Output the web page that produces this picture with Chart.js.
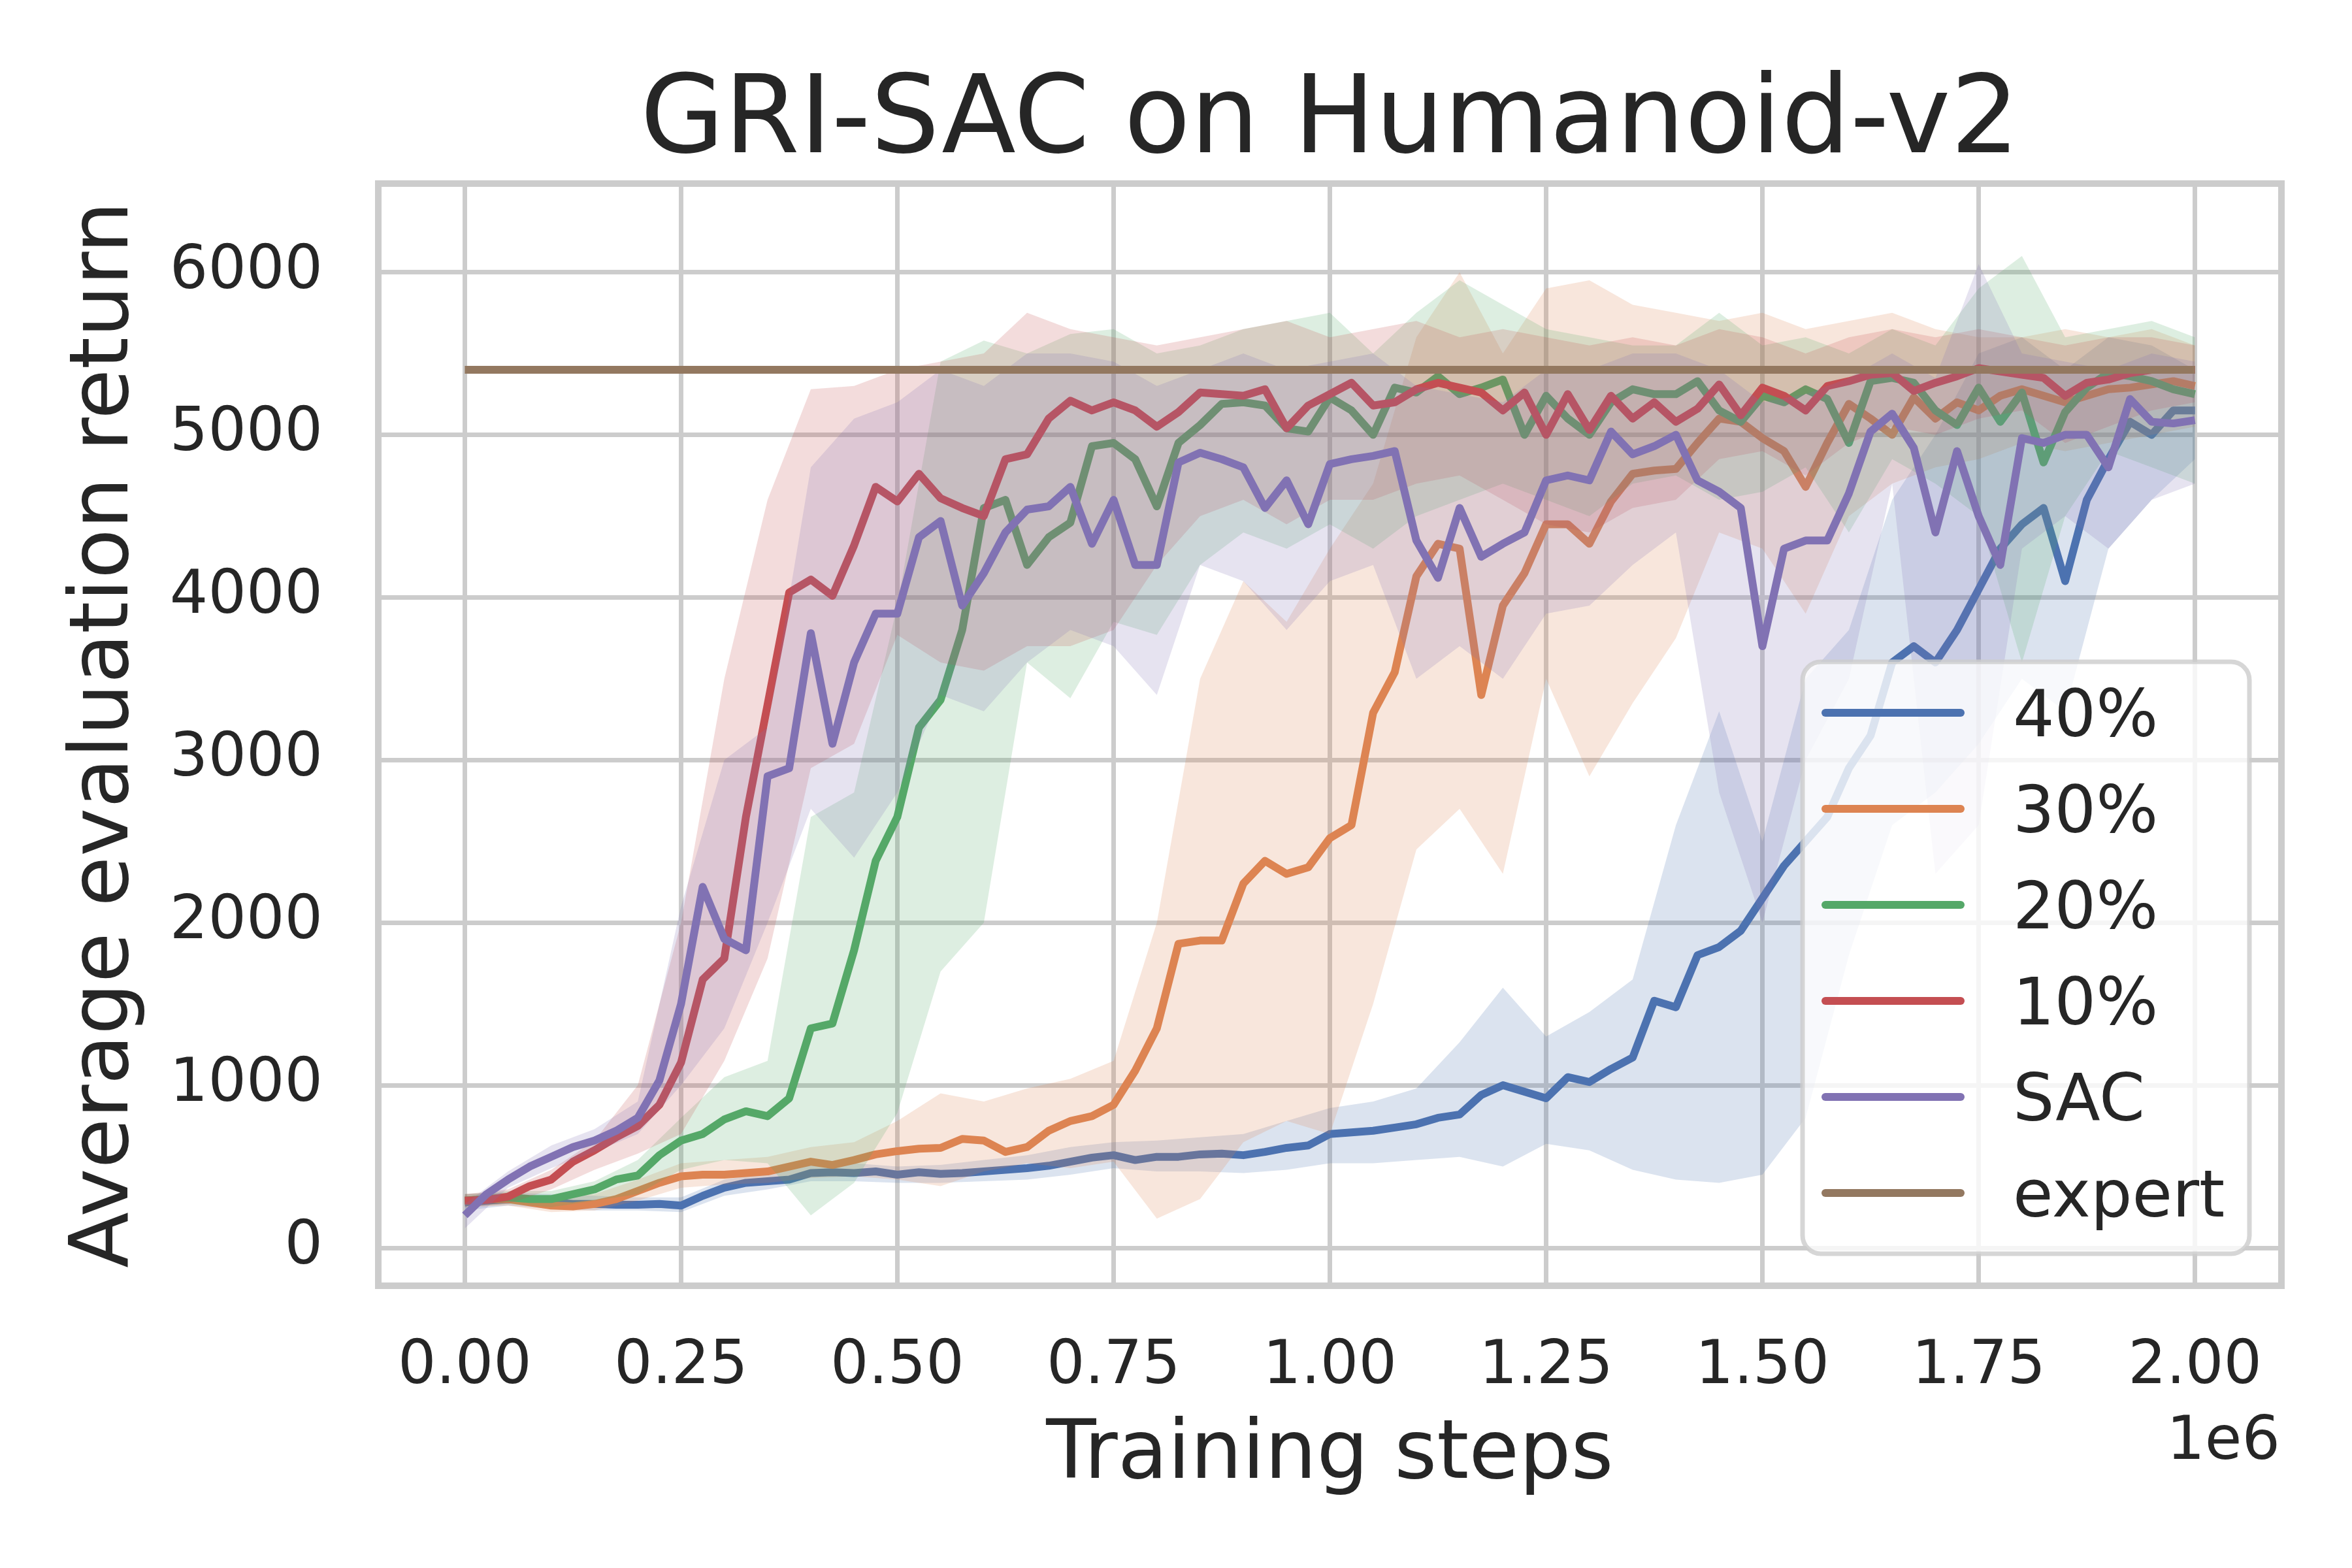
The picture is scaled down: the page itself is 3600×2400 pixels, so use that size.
<!DOCTYPE html>
<html><head><meta charset="utf-8">
<script src="https://cdn.jsdelivr.net/npm/chart.js@4.4.1/dist/chart.umd.min.js"></script>
<style>html,body{margin:0;padding:0;background:#fff}</style>
</head><body>
<canvas id="c" width="3600" height="2400" style="width:3600px;height:2400px"></canvas>
<script>
// x positions of the evaluations, in thousands of training steps
const steps = [0,25,50,75,100,125,150,175,200,225,250,275,300,325,350,375,400,
425,450,475,500,525,550,575,600,625,650,675,700,725,750,775,800,
825,850,875,900,925,950,975,1000,1025,1050,1075,1100,1125,1150,1175,1200,
1225,1250,1275,1300,1325,1350,1375,1400,1425,1450,1475,1500,1525,1550,1575,1600,
1625,1650,1675,1700,1725,1750,1775,1800,1825,1850,1875,1900,1925,1950,1975,2000];
// x positions of the confidence band samples, in thousands of steps
const bandSteps = [0,50,100,150,200,250,300,350,400,
450,500,550,600,650,700,750,800,
850,900,950,1000,1050,1100,1150,1200,
1250,1300,1350,1400,1450,1500,1550,1600,
1650,1700,1750,1800,1850,1900,1950,2000];

const chartTitle = 'GRI-SAC on Humanoid-v2';
const xTitle = 'Training steps';
const yTitle = 'Average evaluation return';
const seriesLabels = ['40%','30%','20%','10%','SAC','expert'];

const ret40 = [280,290,300,290,280,270,270,265,265,270,260,320,370,400,410,420,460,
465,460,470,450,465,455,460,470,480,490,505,530,555,570,540,560,
560,575,580,570,590,615,630,700,710,720,740,760,800,820,940,1000,
960,920,1050,1020,1100,1170,1520,1480,1800,1850,1950,2150,2350,2500,2650,2950,
3150,3600,3700,3600,3800,4050,4300,4450,4550,4100,4600,4850,5080,5000,5150,5150];
const ret30 = [290,300,300,280,260,255,270,300,350,400,440,450,450,460,470,500,530,
510,540,575,595,610,615,670,660,590,620,720,780,810,880,1090,1350,
1870,1890,1890,2240,2380,2300,2340,2520,2600,3290,3540,4130,4330,4300,3400,3950,
4150,4450,4450,4330,4590,4760,4780,4790,4950,5100,5080,4980,4900,4680,4950,5190,
5100,5000,5230,5100,5200,5150,5240,5280,5240,5200,5240,5280,5290,5310,5330,5300];
const ret20 = [290,300,310,300,300,330,360,420,445,570,660,700,790,840,810,920,1350,
1380,1830,2380,2650,3200,3370,3800,4550,4600,4200,4370,4460,4930,4950,4850,4560,
4950,5060,5190,5200,5180,5040,5020,5230,5150,5000,5290,5260,5360,5250,5290,5340,
5000,5240,5100,5000,5200,5280,5250,5250,5330,5150,5080,5240,5200,5280,5220,4950,
5330,5350,5320,5150,5060,5290,5080,5260,4830,5140,5290,5380,5360,5330,5280,5250];
const ret10 = [290,295,315,380,420,530,600,680,750,880,1140,1650,1780,2650,3340,4030,4110,
4010,4320,4680,4590,4760,4610,4550,4500,4850,4880,5100,5210,5150,5200,5150,5050,
5140,5260,5250,5240,5280,5040,5180,5250,5320,5180,5200,5280,5320,5290,5260,5150,
5260,5000,5250,5030,5240,5100,5200,5080,5160,5310,5120,5290,5240,5150,5300,5330,
5370,5380,5270,5320,5360,5410,5390,5370,5350,5240,5320,5340,5380,5400,5400,5400];
const retSAC = [200,330,420,500,560,620,660,720,800,1030,1500,2220,1900,1830,2900,2950,3780,
3100,3600,3900,3900,4370,4470,3950,4150,4400,4540,4560,4680,4330,4600,4200,4200,
4830,4890,4850,4800,4550,4720,4450,4820,4850,4870,4900,4350,4120,4550,4250,4330,
4400,4720,4750,4720,5020,4880,4930,5000,4720,4650,4550,3700,4300,4350,4350,4640,
5020,5130,4920,4400,4900,4500,4200,4980,4950,5000,5000,4800,5220,5080,5070,5090];
const expertSteps = [0, 2000];
const expertReturn = [5400, 5400];

// confidence bands (lower / upper), sampled at bandSteps
const lo40 = [230,260,240,230,230,220,320,360,410, 410,400,400,410,420,450,490,470, 470,460,480,520,520,540,560,500, 640,600,480,420,400,450,800,1800, 2600,2800,3100,3500,3300,4300,4600,4850];
const hi40 = [330,340,330,320,310,310,420,460,510, 520,500,510,540,570,620,650,660, 680,700,780,860,900,980,1265,1600, 1300,1450,1650,2600,3300,2500,3500,3800, 4600,5000,5500,5600,5400,5600,5550,5400];
const lo30 = [250,260,220,230,290,370,390,400,430, 440,420,380,470,520,490,530,180, 300,650,780,700,1500,2450,2700,2300, 3500,2900,3350,3750,4400,4300,3900,4500, 4700,4800,4850,4950,4900,4950,5000,5050];
const hi30 = [330,340,310,330,420,520,540,560,620, 650,780,950,900,980,1040,1150,2000, 3500,4100,3850,4300,4700,5600,6000,5500, 5900,5950,5800,5750,5700,5750,5650,5700, 5750,5650,5600,5600,5650,5600,5650,5550];
const lo20 = [250,270,250,290,330,480,540,520,200, 400,830,1700,2000,3600,3380,3850,3770, 4200,4400,4300,4450,4300,4500,4600,4700, 4600,4500,4700,4750,4600,4650,4800,4400, 4850,4700,4500,3600,4500,4900,4800,4700];
const hi20 = [330,350,350,410,540,800,1050,1150,2650, 2800,3950,5450,5580,5500,5620,5650,5500, 5550,5650,5700,5750,5500,5750,5950,5800, 5650,5600,5550,5550,5750,5550,5600,5500, 5650,5550,5900,6100,5600,5650,5700,5600];
const lo10 = [250,270,360,480,580,700,1150,1780,2950, 3100,3770,3600,3550,3700,3700,3800,4200, 4500,4600,4450,4600,4600,4700,4750,4600, 4450,4400,4550,4600,4850,4900,4750,4950, 5050,5000,5100,5150,4950,5050,5150,5200];
const hi10 = [330,360,480,660,1000,2000,3500,4600,5280, 5300,5400,5450,5500,5750,5650,5600,5550, 5600,5650,5700,5600,5650,5700,5600,5650, 5600,5550,5600,5550,5650,5600,5500,5600, 5650,5600,5650,5600,5550,5600,5600,5550];
const loSAC = [120,370,490,590,700,1000,1350,2000,2700, 2400,2800,3400,3300,3600,3800,3700,3400, 4200,4100,3800,4100,4200,3500,3700,3500, 3900,3950,4200,4400,2800,2000,3000,3500, 4700,2300,2600,4300,4500,4300,4600,4700];
const hiSAC = [270,470,630,730,900,2100,3000,3200,4800, 5100,5200,5400,5300,5500,5500,5450,5300, 5400,5500,5400,5450,5500,5300,5250,5200, 5400,5400,5500,5500,5400,5200,5250,5350, 5500,5350,6050,5500,5450,5400,5500,5450];

const xTicks = [0,250,500,750,1000,1250,1500,1750,2000];
const yTicks = [0,1000,2000,3000,4000,5000,6000];

const FONT = 'DejaVu Sans';
const TXT = '#262626';
const LW = 12;
const palette = [[76,114,176],[221,132,82],[85,168,104],[196,78,82],[129,114,179],[147,120,96]];
const rgb = (c, a) => a === undefined ? `rgb(${c[0]},${c[1]},${c[2]})` : `rgba(${c[0]},${c[1]},${c[2]},${a})`;

const series = [
  {label: seriesLabels[0], mean: ret40, lo: lo40, hi: hi40},
  {label: seriesLabels[1], mean: ret30, lo: lo30, hi: hi30},
  {label: seriesLabels[2], mean: ret20, lo: lo20, hi: hi20},
  {label: seriesLabels[3], mean: ret10, lo: lo10, hi: hi10},
  {label: seriesLabels[4], mean: retSAC, lo: loSAC, hi: hiSAC}
];

const datasets = [];
let order = 1000;
series.forEach((s, k) => {
  const hiIdx = datasets.length;
  datasets.push({label: '', band: true, data: bandSteps.map((x, i) => ({x, y: s.hi[i]})),
    borderWidth: 0, borderColor: 'rgba(0,0,0,0)', pointRadius: 0,
    fill: hiIdx + 1, backgroundColor: rgb(palette[k], 0.2), order: order--});
  datasets.push({label: '', band: true, data: bandSteps.map((x, i) => ({x, y: s.lo[i]})),
    borderWidth: 0, borderColor: 'rgba(0,0,0,0)', pointRadius: 0, fill: false, order: order--});
  datasets.push({label: s.label, data: steps.map((x, i) => ({x, y: s.mean[i]})),
    borderColor: rgb(palette[k]), borderWidth: LW, pointRadius: 0, fill: false,
    borderJoinStyle: 'round', order: order--});
});
datasets.push({label: seriesLabels[5], data: expertSteps.map((x, i) => ({x, y: expertReturn[i]})),
  borderColor: rgb(palette[5]), borderWidth: LW, pointRadius: 0, fill: false, order: order--});

const framePlugin = {
  id: 'frame',
  afterDatasetsDraw(chart) {
    const {ctx, chartArea: a} = chart;
    ctx.save();
    ctx.strokeStyle = '#cccccc';
    ctx.lineWidth = 10;
    ctx.strokeRect(a.left, a.top, a.right - a.left, a.bottom - a.top);
    ctx.restore();
  }
};

const legendPlugin = {
  id: 'insideLegend',
  afterDraw(chart) {
    const ctx = chart.ctx;
    const items = chart.data.datasets.filter(d => !d.band);
    const bx = 2759, by = 1013, bw = 684, bh = 906;
    ctx.save();
    ctx.beginPath();
    ctx.roundRect(bx, by, bw, bh, 28);
    ctx.fillStyle = 'rgba(255,255,255,0.8)';
    ctx.fill();
    ctx.lineWidth = 7;
    ctx.strokeStyle = 'rgba(204,204,204,0.8)';
    ctx.stroke();
    ctx.font = `100px "${FONT}"`;
    ctx.textAlign = 'left';
    ctx.textBaseline = 'alphabetic';
    items.forEach((d, i) => {
      const y = 1091 + i * 147;
      ctx.beginPath();
      ctx.moveTo(2794, y);
      ctx.lineTo(3001, y);
      ctx.strokeStyle = d.borderColor;
      ctx.lineWidth = LW;
      ctx.lineCap = 'round';
      ctx.stroke();
      ctx.fillStyle = TXT;
      ctx.fillText(d.label, 3081, y + 36);
    });
    ctx.restore();
  }
};

const textPlugin = {
  id: 'extraText',
  afterDraw(chart) {
    const {ctx, chartArea: a} = chart;
    ctx.save();
    ctx.fillStyle = TXT;
    ctx.textBaseline = 'alphabetic';
    // title centred over the axes
    ctx.font = `166px "${FONT}"`;
    ctx.textAlign = 'center';
    ctx.fillText(chartTitle, (a.left + a.right) / 2, 233);
    // axis offset label
    ctx.font = `92px "${FONT}"`;
    ctx.textAlign = 'right';
    ctx.fillText('1e6', 3490, 2233);
    ctx.restore();
  }
};

new Chart(document.getElementById('c'), {
  type: 'line',
  data: {datasets},
  options: {
    responsive: false,
    devicePixelRatio: 1,
    animation: false,
    layout: {padding: {left: 0, right: 108, top: 281, bottom: 0}},
    plugins: {
      legend: {display: false},
      tooltip: {enabled: false},
      title: {display: false}
    },
    scales: {
      x: {
        type: 'linear', min: -100, max: 2100,
        afterBuildTicks: s => { s.ticks = xTicks.map(v => ({value: v})); },
        afterFit: s => { s.height = 432; },
        grid: {color: '#cccccc', lineWidth: 7, drawTicks: false},
        border: {display: false},
        ticks: {padding: 70, color: TXT, font: {family: FONT, size: 92}, maxRotation: 0, autoSkip: false,
          callback: v => (v / 1000).toFixed(2)},
        title: {display: true, text: xTitle, color: TXT,
          font: {family: FONT, size: 125}, padding: {top: 0, bottom: 95}}
      },
      y: {
        type: 'linear', min: -233, max: 6545,
        afterBuildTicks: s => { s.ticks = yTicks.map(v => ({value: v})); },
        afterFit: s => { s.width = 579; },
        grid: {color: '#cccccc', lineWidth: 7, drawTicks: false},
        border: {display: false},
        ticks: {padding: 85, color: TXT, font: {family: FONT, size: 92}, autoSkip: false,
          callback: v => String(v)},
        title: {display: true, text: yTitle, color: TXT,
          font: {family: FONT, size: 125}, padding: {top: 88, bottom: 0}}
      }
    }
  },
  plugins: [framePlugin, legendPlugin, textPlugin]
});
</script>
</body></html>
